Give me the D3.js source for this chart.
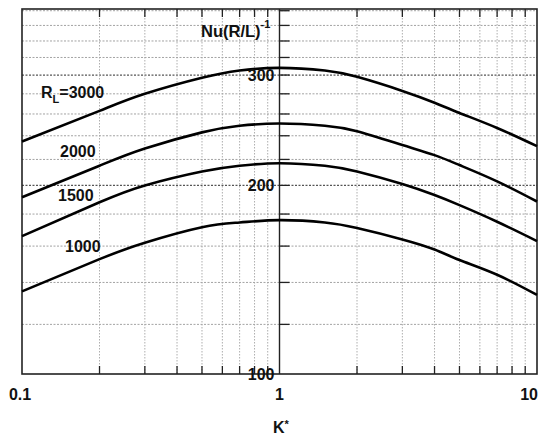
<!DOCTYPE html>
<html>
<head>
<meta charset="utf-8">
<script src="https://cdn.jsdelivr.net/npm/d3@7"></script>
<style>
  html, body { margin: 0; padding: 0; background: #fff; overflow: hidden; }
  svg { display: block; }
  text { font-family: "Liberation Sans", Arial, sans-serif; font-weight: bold; fill: #111; }
</style>
</head>
<body>
<svg id="chart" width="539" height="436"></svg>
<script>
// ---- data ----
const kValues = [0.1, 0.2, 0.3, 0.5, 0.7, 1, 1.5, 2, 3, 4, 5, 7, 10];
const nu3000 = [235, 263, 280, 297, 305, 308, 305, 298, 283, 271, 261, 247, 231];
const nu2000 = [191.5, 215, 229, 243, 249, 251, 249, 244, 232, 223.5, 215.5, 203, 188.5];
const nu1500 = [166, 188, 200, 210.5, 215, 217, 215, 210.5, 201, 193, 186, 175, 163];
const nu1000 = [135.5, 152.5, 162, 171.5, 174.5, 176, 174.5, 171, 164, 158, 152, 144, 133.7];
const seriesNames = ["3000", "2000", "1500", "1000"];
const yTickLabels = [100, 200, 300];
const xTickLabels = [0.1, 1, 10];
const yGridValues = [120, 140, 160, 180, 200, 220, 240, 260, 280, 300, 320, 340, 360, 380];
const xGridValues = [0.2, 0.3, 0.4, 0.5, 0.6, 0.7, 0.8, 0.9, 2, 3, 4, 5, 6, 7, 8, 9];

const series = [nu3000, nu2000, nu1500, nu1000];

const svg = d3.select("#chart");
const pLeft = 22, pRight = 537, pTop = 9, pBottom = 374;

const x = d3.scaleLog().domain([0.1, 10]).range([pLeft, pRight]);
const y = d3.scaleLog().domain([100, 382.4]).range([pBottom, pTop]);

// grid
const grid = svg.append("g");
grid.selectAll("line.h").data(yGridValues).enter().append("line")
  .attr("x1", pLeft).attr("x2", pRight)
  .attr("y1", d => y(d)).attr("y2", d => y(d))
  .attr("stroke", d => (d === 200 || d === 300) ? "#555" : "#999")
  .attr("stroke-width", d => (d === 200 || d === 300) ? 1.2 : 0.9)
  .attr("stroke-dasharray", "2,1.5");
grid.selectAll("line.v").data(xGridValues).enter().append("line")
  .attr("x1", d => x(d)).attr("x2", d => x(d))
  .attr("y1", pTop).attr("y2", pBottom)
  .attr("stroke", "#a5a5a5").attr("stroke-width", 0.9)
  .attr("stroke-dasharray", "1.5,1.5");

// ticks on top and bottom borders
const ticks = svg.append("g").attr("stroke", "#222").attr("stroke-width", 1.3);
ticks.selectAll("line.b").data(xGridValues).enter().append("line")
  .attr("x1", d => x(d)).attr("x2", d => x(d))
  .attr("y1", pBottom).attr("y2", pBottom - 8);
ticks.selectAll("line.t").data(xGridValues).enter().append("line")
  .attr("x1", d => x(d)).attr("x2", d => x(d))
  .attr("y1", pTop).attr("y2", pTop + 8);
// ticks on central axis
ticks.selectAll("line.c").data(yGridValues).enter().append("line")
  .attr("x1", x(1)).attr("x2", x(1) + 10)
  .attr("y1", d => y(d)).attr("y2", d => y(d));

// frame
svg.append("rect")
  .attr("x", pLeft).attr("y", pTop)
  .attr("width", pRight - pLeft).attr("height", pBottom - pTop)
  .attr("fill", "none").attr("stroke", "#222").attr("stroke-width", 1.6);
// central vertical axis at K*=1
svg.append("line")
  .attr("x1", x(1)).attr("x2", x(1)).attr("y1", pTop).attr("y2", pBottom)
  .attr("stroke", "#222").attr("stroke-width", 1.4);

// curves
const line = d3.line()
  .x((d, i) => x(kValues[i]))
  .y(d => y(d))
  .curve(d3.curveNatural);
svg.append("g").selectAll("path").data(series).enter().append("path")
  .attr("d", d => line(d))
  .attr("fill", "none").attr("stroke", "#000").attr("stroke-width", 2.6);

// y tick labels (inside, left of central axis)
svg.append("g").selectAll("text").data(yTickLabels).enter().append("text")
  .attr("x", x(1) - 5).attr("y", d => y(d) + 6)
  .attr("text-anchor", "end").attr("font-size", 16)
  .text(d => d);

// x tick labels
svg.append("g").selectAll("text").data(xTickLabels).enter().append("text")
  .attr("x", d => d === 0.1 ? x(d) - 2 : (d === 10 ? 538 : x(d)))
  .attr("y", 400)
  .attr("text-anchor", d => d === 10 ? "end" : "middle")
  .attr("font-size", 16)
  .text(d => d);

// y axis title
const yt = svg.append("text").attr("x", 201).attr("y", 37).attr("font-size", 16.5);
yt.append("tspan").text("Nu(R/L)");
yt.append("tspan").attr("font-size", 11).attr("dy", -9).text("-1");

// x axis title
const xt = svg.append("text").attr("x", 273).attr("y", 433).attr("font-size", 16);
xt.append("tspan").text("K");
xt.append("tspan").attr("font-size", 11).attr("dy", -5).text("*");

// series labels
const labelPos = [[41, 98], [60, 157], [58, 201], [65, 252]];
seriesNames.forEach((name, i) => {
  const t = svg.append("text").attr("x", labelPos[i][0]).attr("y", labelPos[i][1]).attr("font-size", 16);
  if (i === 0) {
    t.append("tspan").text("R");
    t.append("tspan").attr("font-size", 11).attr("dy", 5).text("L");
    t.append("tspan").attr("dy", -5).text("=" + name);
  } else {
    t.text(name);
  }
});
</script>
</body>
</html>
